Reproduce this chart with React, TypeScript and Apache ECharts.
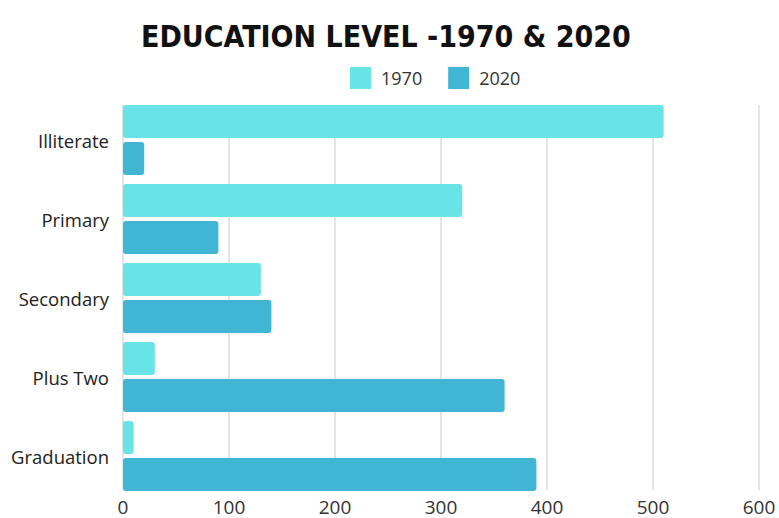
import React, { useEffect, useRef } from "react";
import * as echarts from "echarts";

const categories = ["Illiterate", "Primary", "Secondary", "Plus Two", "Graduation"];
const values1970 = [510, 320, 130, 30, 10];
const values2020 = [20, 90, 140, 360, 390];
const seriesNames = ["1970", "2020"];
const titleText = "EDUCATION LEVEL -1970 & 2020";

export default function App() {
  const ref = useRef<HTMLDivElement>(null);
  useEffect(() => {
    document.body.style.margin = "0";
    if (!ref.current) return;
    const chart = echarts.init(ref.current, null, { renderer: "svg" });
    chart.setOption({
      animation: false,
      backgroundColor: "#ffffff",
      title: {
        text: titleText,
        left: 136,
        top: 16,
        textStyle: {
          fontFamily: "'DejaVu Sans Condensed', 'Liberation Sans Narrow', sans-serif",
          fontWeight: "bold",
          fontSize: 30,
          color: "#111111",
        },
      },
      legend: {
        data: seriesNames,
        left: 345,
        top: 62,
        icon: "rect",
        itemWidth: 21,
        itemHeight: 22,
        itemGap: 26,
        textStyle: {
          fontFamily: "Open Sans",
          fontSize: 18,
          color: "#333333",
          padding: [0, 0, 0, 5],
        },
      },
      grid: [
        { left: 123, right: 20, top: 100.5, height: 395, containLabel: false },
        { left: 123, right: 20, top: 105, height: 385, containLabel: false },
      ],
      xAxis: [
        { type: "value", gridIndex: 0, min: 0, max: 600, interval: 100, show: false },
        {
          type: "value",
          gridIndex: 1,
          min: 0,
          max: 600,
          interval: 100,
          axisLine: { show: false },
          axisTick: { show: false },
          splitLine: { show: true, lineStyle: { color: "#dcdcdc", width: 1.5 } },
          axisLabel: {
            margin: 7,
            fontFamily: "Open Sans",
            fontSize: 19,
            color: "#333333",
          },
        },
      ],
      yAxis: [
        {
          type: "category",
          gridIndex: 0,
          data: categories,
          inverse: true,
          axisLine: { show: false },
          axisTick: { show: false },
          axisLabel: {
            margin: 14,
            fontFamily: "Open Sans",
            fontSize: 18.5,
            color: "#222222",
          },
        },
        { type: "value", gridIndex: 1, min: 0, max: 1, show: false },
      ],
      series: [
        {
          name: seriesNames[0],
          type: "bar",
          xAxisIndex: 0,
          yAxisIndex: 0,
          data: values1970,
          barWidth: 33,
          barGap: "12%",
          itemStyle: { color: "#68e3e6", borderRadius: 3 },
        },
        {
          name: seriesNames[1],
          type: "bar",
          xAxisIndex: 0,
          yAxisIndex: 0,
          data: values2020,
          barWidth: 33,
          barGap: "12%",
          itemStyle: { color: "#41b5d4", borderRadius: 3 },
        },
      ],
    });
    return () => chart.dispose();
  }, []);
  return <div ref={ref} style={{ width: 779, height: 518 }} />;
}
